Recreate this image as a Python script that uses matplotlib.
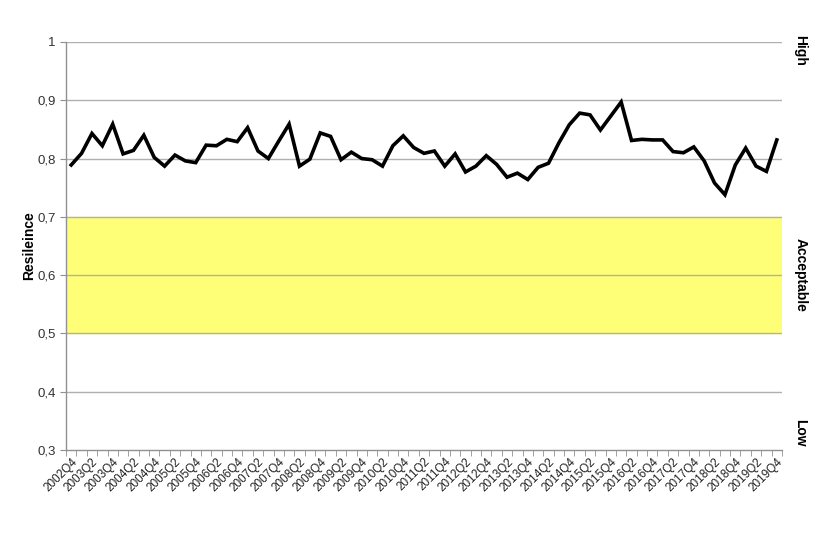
import matplotlib
matplotlib.use("Agg")
import matplotlib.pyplot as plt
import numpy as np

plt.rcParams['font.family'] = ['Liberation Sans', 'DejaVu Sans']

quarters = []
for y in range(2002, 2020):
    for q in range(1, 5):
        if y == 2002 and q < 4:
            continue
        quarters.append(f"{y}Q{q}")

resilience = [0.789, 0.809, 0.843, 0.822, 0.859, 0.808, 0.814, 0.840, 0.802, 0.787,
              0.806, 0.796, 0.793, 0.823, 0.822, 0.833, 0.829, 0.853, 0.813, 0.800,
              0.830, 0.859, 0.787, 0.799, 0.844, 0.838, 0.798, 0.811, 0.800, 0.798,
              0.787, 0.822, 0.839, 0.819, 0.809, 0.813, 0.787, 0.808, 0.777, 0.787,
              0.805, 0.790, 0.768, 0.775, 0.764, 0.785, 0.792, 0.827, 0.858, 0.878,
              0.875, 0.849, 0.873, 0.897, 0.831, 0.833, 0.832, 0.832, 0.812, 0.810,
              0.820, 0.796, 0.758, 0.738, 0.789, 0.818, 0.787, 0.778, 0.832]

band_low, band_high = 0.5, 0.7
yticks = [0.3, 0.4, 0.5, 0.6, 0.7, 0.8, 0.9, 1.0]
ytick_labels = ["0,3", "0,4", "0,5", "0,6", "0,7", "0,8", "0,9", "1"]
zone_labels = ["High", "Acceptable", "Low"]
zone_centers = [0.985, 0.6, 0.33]

fig = plt.figure(figsize=(8.21, 5.35), dpi=100)
ax = fig.add_axes([0.0804, 0.1589, 0.8721, 0.7626])

x = np.arange(len(quarters))
ax.axhspan(band_low, band_high, color='#FFFF77', zorder=0)
for yt in yticks[1:]:
    ax.axhline(yt, color='#B0B0B0', lw=1.0, zorder=1)
ax.plot(x, resilience, color='black', lw=2.6, zorder=3, solid_joinstyle='miter')

ax.set_xlim(-0.5, len(quarters) - 0.5)
ax.set_ylim(0.3, 1.0)
ax.set_yticks(yticks)
ax.set_yticklabels(ytick_labels, fontsize=9.5, color='#333333')
ax.set_xticks(x[::2])
ax.set_xticklabels(quarters[::2], rotation=45, ha='right', rotation_mode='anchor',
                   fontsize=8.5, color='#222222')
ax.tick_params(axis='x', length=0, pad=4)
ax.set_xticks(np.arange(-0.5, len(quarters), 1), minor=True)
ax.tick_params(axis='x', which='minor', length=4, color='#909090', direction='out')
ax.tick_params(axis='y', length=4, color='#909090', direction='out')

for s in ['top', 'right']:
    ax.spines[s].set_visible(False)
for s in ['left', 'bottom']:
    ax.spines[s].set_color('#909090')
    ax.spines[s].set_linewidth(1.0)

ax.set_ylabel("Resileince", fontsize=10, fontweight='bold', labelpad=1)

for lab, yc in zip(zone_labels, zone_centers):
    ax.text(1.026, (yc - 0.3) / 0.7, lab, transform=ax.transAxes, rotation=-90,
            ha='center', va='center', fontsize=10, fontweight='bold')

fig.savefig("out.png", dpi=100)
